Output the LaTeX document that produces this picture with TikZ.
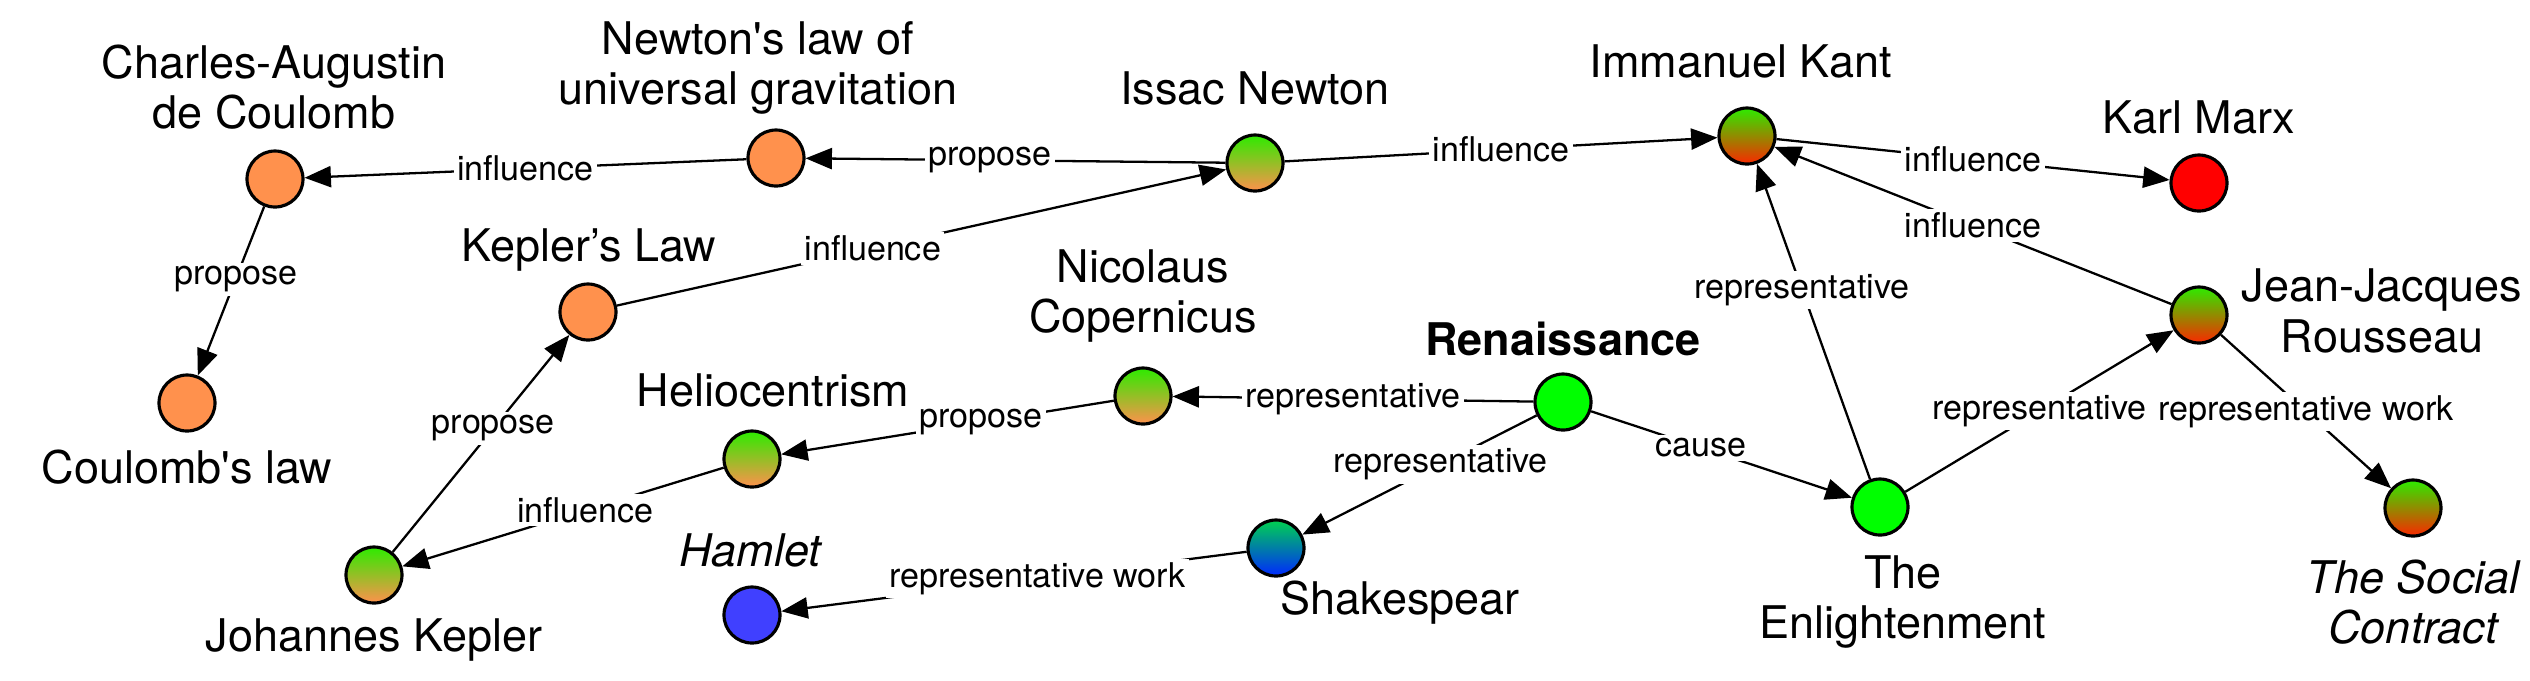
\documentclass[tikz,border=0pt]{standalone}
\usepackage{fontspec}
\setmainfont{TeX Gyre Heros}
\usepackage{tikz}
\usepackage{xcolor}
\usetikzlibrary{arrows.meta}

\definecolor{peach}{RGB}{255,145,77}
\definecolor{leaf}{RGB}{45,235,0}
\definecolor{lime}{RGB}{0,255,0}
\definecolor{blood}{RGB}{250,40,0}
\definecolor{ocean}{RGB}{0,40,255}
\definecolor{sea}{RGB}{0,210,80}
\definecolor{violetblue}{RGB}{64,64,255}

\tikzset{
  ent/.style={circle,draw=black,line width=0.9pt,minimum size=0.56cm,inner sep=0pt},
  ttl/.style={align=center,font=\fontsize{12.8}{14.4}\selectfont},
  rel/.style={draw=black,line width=0.65pt,-{Triangle[length=7.5pt,width=6pt]}},
  lab/.style={fill=white,inner sep=1pt,font=\fontsize{9.7}{11}\selectfont},
  sunset/.style={top color=leaf,bottom color=peach},
  blaze/.style={top color=leaf,bottom color=blood}
}

\begin{document}
\begin{tikzpicture}
 \useasboundingbox (0,0) rectangle (25.3,-6.8);

 \draw (2.75,-1.79)  node[ent,fill=peach] (coul) {};
 \draw (7.76,-1.58)  node[ent,fill=peach] (nlaw) {};
 \draw (12.55,-1.63) node[ent,sunset] (newton) {};
 \draw (17.47,-1.36) node[ent,blaze] (kant) {};
 \draw (21.99,-1.83) node[ent,fill=red] (marx) {};
 \draw (21.99,-3.15) node[ent,blaze] (rous) {};
 \draw (5.88,-3.12)  node[ent,fill=peach] (klaw) {};
 \draw (1.87,-4.03)  node[ent,fill=peach] (claw) {};
 \draw (3.74,-5.75)  node[ent,sunset] (kepler) {};
 \draw (7.52,-4.59)  node[ent,sunset] (helio) {};
 \draw (7.52,-6.15)  node[ent,fill=violetblue] (hamlet) {};
 \draw (11.43,-3.96) node[ent,sunset] (coper) {};
 \draw (15.63,-4.02) node[ent,fill=lime] (ren) {};
 \draw (12.76,-5.48) node[ent,top color=sea,bottom color=ocean] (shake) {};
 \draw (18.80,-5.07) node[ent,fill=lime] (enl) {};
 \draw (24.13,-5.08) node[ent,blaze] (social) {};

 \draw (2.74,-0.87)  node[ttl] (coulT) {Charles-Augustin\\de Coulomb};
 \draw (7.58,-0.68)  node[ttl] (nlawT) {Newton\textquotesingle s law of\\universal gravitation};
 \draw (12.55,-0.88) node[ttl] (newtonT) {Issac Newton};
 \draw (17.41,-0.61) node[ttl] (kantT) {Immanuel Kant};
 \draw (21.99,-1.17) node[ttl] (marxT) {Karl Marx};
 \draw (23.82,-3.11) node[ttl] (rousT) {Jean-Jacques\\Rousseau};
 \draw (5.89,-2.50)  node[ttl] (klawT) {Kepler’s Law};
 \draw (1.87,-4.67)  node[ttl] (clawT) {Coulomb\textquotesingle s law};
 \draw (3.74,-6.40)  node[ttl] (keplerT) {Johannes Kepler};
 \draw (7.73,-3.90)  node[ttl] (helioT) {Heliocentrism};
 \draw (7.51,-5.50)  node[ttl] (hamletT) {\textit{Hamlet}};
 \draw (11.43,-2.96) node[ttl] (coperT) {Nicolaus\\Copernicus};
 \draw (15.63,-3.39) node[ttl] (renT) {\textbf{Renaissance}};
 \draw (14.00,-6.03) node[ttl] (shakeT) {Shakespear};
 \draw (19.03,-6.02) node[ttl] (enlT) {The\\Enlightenment};
 \draw (24.14,-6.02) node[ttl] (socialT) {\textit{The Social}\\\textit{Contract}};

 \draw[rel] (nlaw) -- (coul) node[lab,midway] {influence};
 \draw[rel] (newton) -- (nlaw) node[lab,pos=0.56] {propose};
 \draw[rel] (newton) -- (kant) node[lab,midway] {influence};
 \draw[rel] (klaw) -- (newton) node[lab,pos=0.42] {influence};
 \draw[rel] (coul) -- (claw) node[lab,pos=0.43] {propose};
 \draw[rel] (kepler) -- (klaw) node[lab,pos=0.57] {propose};
 \draw[rel] (helio) -- (kepler) node[lab,pos=0.43] {influence};
 \draw[rel] (coper) -- (helio) node[lab,pos=0.4] {propose};
 \draw[rel] (ren) -- (coper) node[lab,midway] {representative};
 \draw[rel] (ren) -- (shake) node[lab,pos=0.41] {representative};
 \draw[rel] (shake) -- (hamlet) node[lab,pos=0.45] {representative work};
 \draw[rel] (ren) -- (enl) node[lab,pos=0.42] {cause};
 \draw[rel] (enl) -- (kant) node[lab,pos=0.6] {representative};
 \draw[rel] (enl) -- (rous) node[lab,midway] {representative};
 \draw[rel] (rous) -- (kant) node[lab,midway] {influence};
 \draw[rel] (kant) -- (marx) node[lab,midway] {influence};
 \draw[rel] (rous) -- (social) node[lab,midway] {representative work};

\end{tikzpicture}
\end{document}
